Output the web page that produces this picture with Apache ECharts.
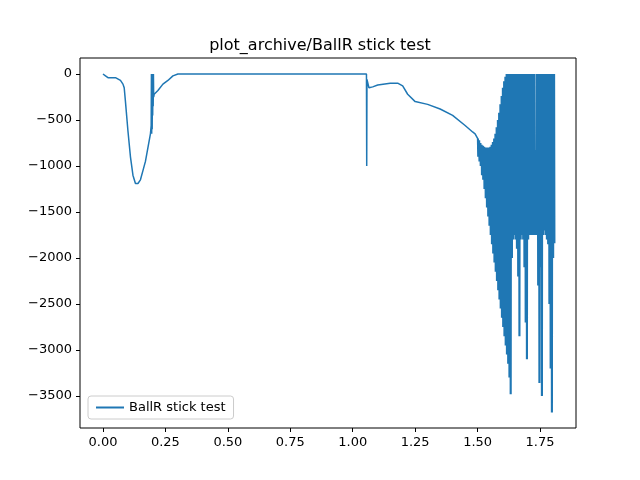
<!DOCTYPE html>
<html>
<head>
<meta charset="utf-8">
<script src="https://cdn.jsdelivr.net/npm/echarts@6/dist/echarts.min.js"></script>
<style>body{margin:0}#chart{width:640px;height:480px}</style>
</head>
<body>
<div id="chart"></div>
<script>
// 平滑部分 (x, y)
const smoothX = [0.00, 0.01, 0.02, 0.05, 0.07, 0.08, 0.085, 0.09, 0.10, 0.11, 0.12, 0.13, 0.14, 0.15, 0.16, 0.17, 0.18, 0.19, 0.193];
const smoothY = [0, -20, -40, -40, -70, -110, -150, -300, -620, -900, -1100, -1190, -1190, -1150, -1050, -950, -800, -650, -560];
// 0.2 附近的振荡
const spikeX = [0.194, 0.195, 0.196, 0.197, 0.198, 0.199, 0.200, 0.201, 0.202, 0.203];
const spikeY = [0, -650, 0, -600, 0, -450, 0, -350, 0, -250];
const midX = [0.205, 0.22, 0.24, 0.26, 0.28, 0.30, 0.32, 1.055, 1.056, 1.057, 1.065, 1.08, 1.10, 1.15, 1.18, 1.20, 1.22, 1.25, 1.30, 1.35, 1.40, 1.45, 1.48, 1.49];
const midY = [-220, -180, -110, -70, -20, 0, 0, 0, -1000, -60, -150, -140, -120, -100, -100, -130, -220, -300, -330, -380, -450, -560, -630, -650];
// 1.50 之后的密集振荡：上包络 / 下包络
const denseX = [1.500,1.505,1.510,1.515,1.520,1.525,1.530,1.535,1.540,1.545,1.550,1.555,1.560,1.565,1.570,1.575,1.580,1.585,1.590,1.595,1.600,1.605,1.610,1.615,1.620,1.625,1.630,1.635,1.640,1.645,1.650,1.655,1.660,1.665,1.670,1.675,1.680,1.685,1.690,1.695,1.700,1.705,1.710,1.715,1.720,1.725,1.730,1.735,1.740,1.745,1.750,1.755,1.760,1.765,1.770,1.775,1.780,1.785,1.790,1.795,1.800,1.805];
const denseUpper = [-700,-720,-750,-770,-780,-790,-800,-800,-800,-800,-790,-770,-740,-700,-650,-580,-500,-420,-330,-240,-150,-80,-30,0,0,0,0,0,0,0,0,0,0,0,0,0,0,0,0,0,0,0,0,0,0,0,-830,0,0,0,0,0,0,0,0,0,0,0,0,0,0,0];
const denseLower = [-900,-950,-1000,-1100,-1150,-1250,-1350,-1450,-1550,-1650,-1750,-1850,-1950,-2050,-2150,-2250,-2350,-2450,-2550,-2650,-2750,-2850,-2950,-3050,-3150,-3300,-3480,-2000,-1800,-1750,-1800,-1900,-2200,-2850,-1800,-1750,-1800,-2100,-2700,-3100,-1800,-1750,-1750,-1750,-1750,-1750,-1750,-1750,-2300,-3360,-2100,-3500,-1750,-1700,-1750,-1800,-1850,-2500,-3200,-3680,-2000,-1840];
const xTicks = [0, 0.25, 0.5, 0.75, 1.0, 1.25, 1.5, 1.75];
const yTicks = [0, -500, -1000, -1500, -2000, -2500, -3000, -3500];

const data = [];
smoothX.forEach((x, i) => data.push([x, smoothY[i]]));
spikeX.forEach((x, i) => data.push([x, spikeY[i]]));
midX.forEach((x, i) => data.push([x, midY[i]]));
denseX.forEach((x, i) => {
  // 每个采样点来回画两次，让振荡区填满
  data.push([x, denseUpper[i]]);
  data.push([x + 0.00125, denseLower[i]]);
  data.push([x + 0.0025, denseUpper[i]]);
  data.push([x + 0.00375, denseLower[i]]);
});

const chart = echarts.init(document.getElementById('chart'));
const font = 'DejaVu Sans';
chart.setOption({
  animation: false,
  title: {
    text: 'plot_archive/BallR stick test', left: 'center', top: 33,
    textStyle: { fontFamily: font, fontSize: 16, fontWeight: 'normal', color: '#000' }
  },
  grid: { left: 80, right: 64, top: 58, bottom: 52, show: true, borderColor: '#000', borderWidth: 1 },
  legend: {
    left: 88, bottom: 61, orient: 'vertical',
    borderColor: '#ccc', borderWidth: 1, borderRadius: 3, padding: [5, 8],
    itemWidth: 28, itemHeight: 2, icon: 'rect',
    textStyle: { fontFamily: font, fontSize: 13, color: '#000' },
    data: ['BallR stick test']
  },
  xAxis: {
    type: 'value', min: -0.092, max: 1.894,
    splitLine: { show: false },
    axisLine: { show: false, onZero: false },
    axisTick: { show: true, length: 4, lineStyle: { color: '#000' }, customValues: xTicks },
    axisLabel: { fontFamily: font, fontSize: 13, color: '#000', customValues: xTicks, formatter: v => v.toFixed(2) }
  },
  yAxis: {
    type: 'value', min: -3848, max: 174,
    splitLine: { show: false },
    axisLine: { show: false, onZero: false },
    axisTick: { show: true, length: 4, lineStyle: { color: '#000' }, customValues: yTicks },
    axisLabel: { fontFamily: font, fontSize: 13, color: '#000', customValues: yTicks, formatter: v => String(v).replace('-', '\u2212') }
  },
  series: [{
    name: 'BallR stick test', type: 'line', data: data, showSymbol: false,
    lineStyle: { color: '#1f77b4', width: 1.5 }, itemStyle: { color: '#1f77b4' }
  }]
});
</script>
</body>
</html>
